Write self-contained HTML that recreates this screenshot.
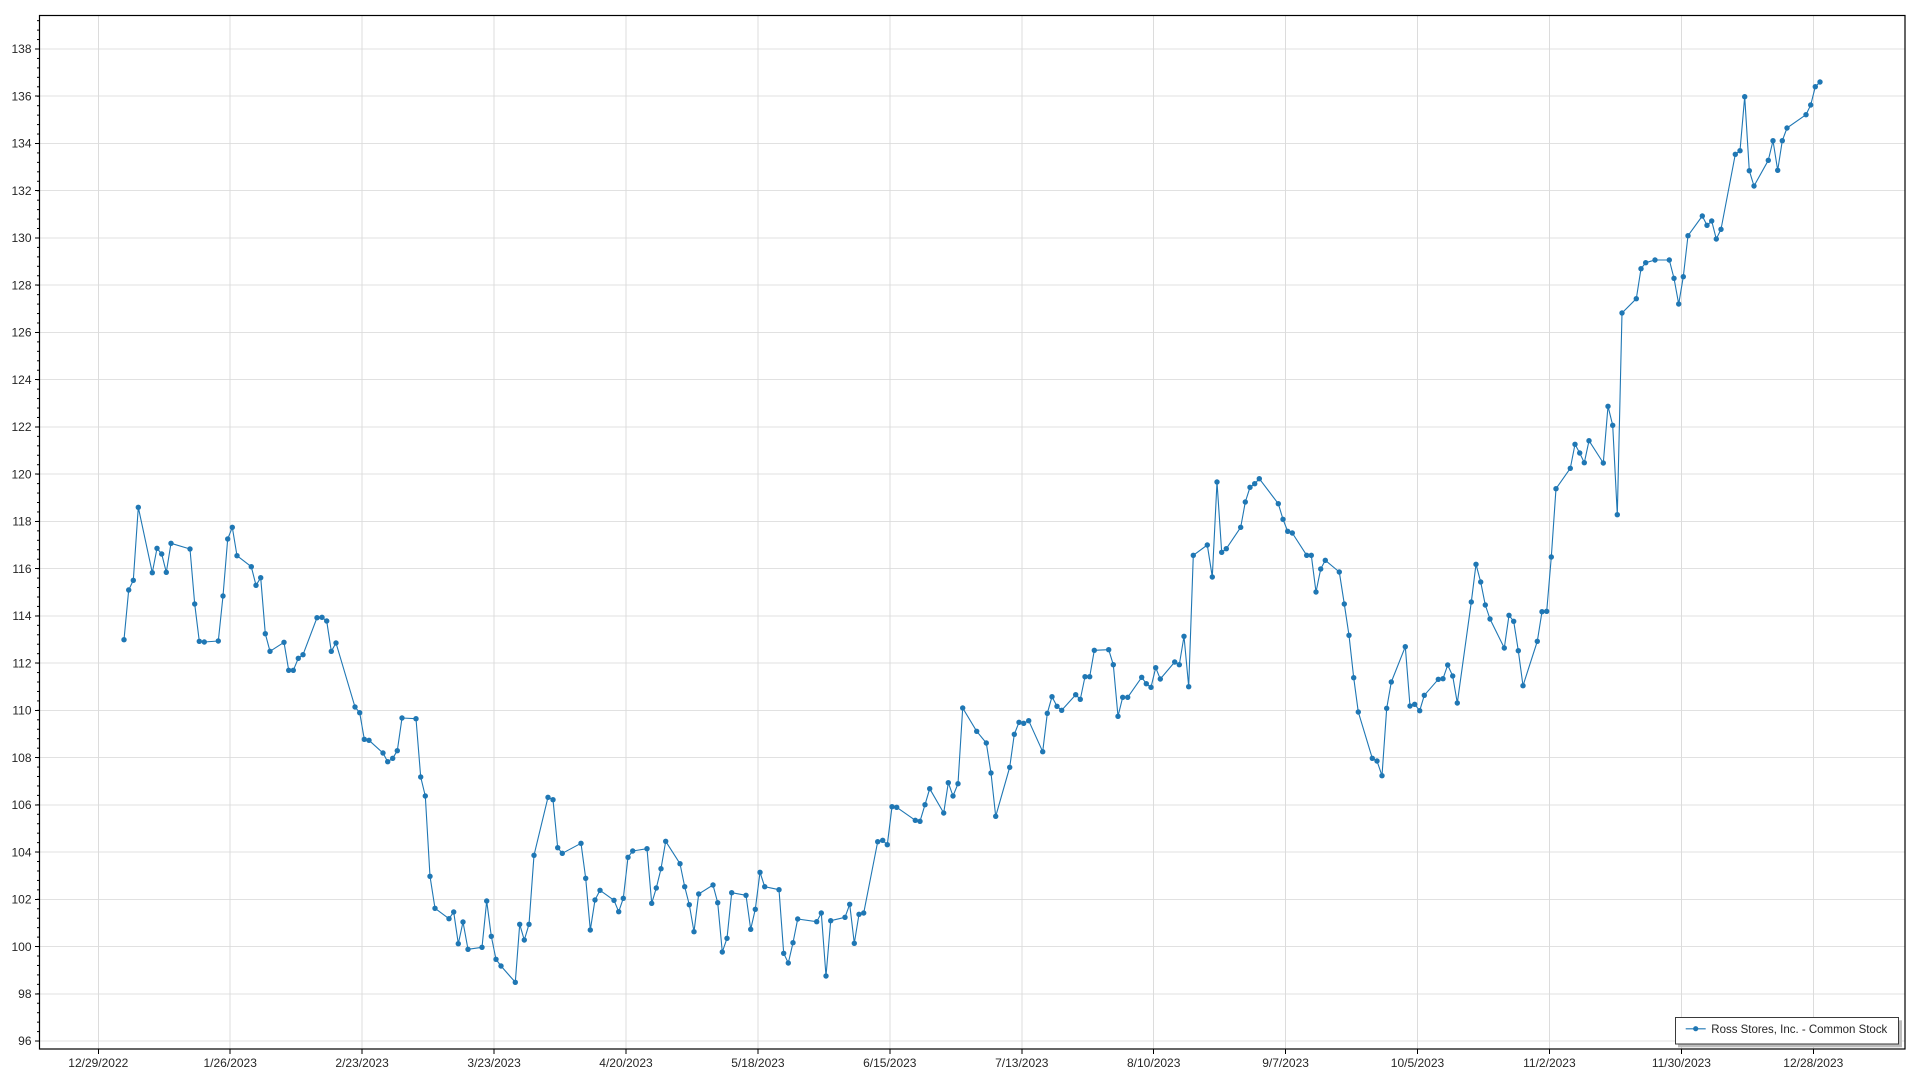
<!DOCTYPE html>
<html>
<head>
<meta charset="utf-8">
<style>
  html, body { margin: 0; padding: 0; background: #ffffff; }
  body { width: 1920px; height: 1080px; overflow: hidden; }
  svg { display: block; }
  text { font-family: "Liberation Sans", "DejaVu Sans", sans-serif; font-size: 12px; fill: #262626; }
</style>
</head>
<body>
<svg width="1920" height="1080" viewBox="0 0 1920 1080" xmlns="http://www.w3.org/2000/svg">
  <defs>
    <pattern id="minor" patternUnits="userSpaceOnUse" x="0" y="48.5" width="4" height="9.448">
      <rect x="0" y="0" width="4" height="1" fill="#000"/>
    </pattern>
    <marker id="dot" viewBox="-3 -3 6 6" markerWidth="6" markerHeight="6" refX="0" refY="0" markerUnits="userSpaceOnUse">
      <circle cx="0" cy="0" r="2.7" fill="#1f77b4"/>
    </marker>
    <clipPath id="plotclip"><rect x="40" y="15" width="1865" height="1034"/></clipPath>
  </defs>

  <rect x="0" y="0" width="1920" height="1080" fill="#ffffff"/>

  <!-- horizontal gridlines -->
  <g stroke="#e1e1e1" stroke-width="1" shape-rendering="crispEdges">
    <line x1="40" x2="1905" y1="49.0" y2="49.0"/>
    <line x1="40" x2="1905" y1="96.2" y2="96.2"/>
    <line x1="40" x2="1905" y1="143.5" y2="143.5"/>
    <line x1="40" x2="1905" y1="190.7" y2="190.7"/>
    <line x1="40" x2="1905" y1="238.0" y2="238.0"/>
    <line x1="40" x2="1905" y1="285.2" y2="285.2"/>
    <line x1="40" x2="1905" y1="332.4" y2="332.4"/>
    <line x1="40" x2="1905" y1="379.7" y2="379.7"/>
    <line x1="40" x2="1905" y1="426.9" y2="426.9"/>
    <line x1="40" x2="1905" y1="474.2" y2="474.2"/>
    <line x1="40" x2="1905" y1="521.4" y2="521.4"/>
    <line x1="40" x2="1905" y1="568.6" y2="568.6"/>
    <line x1="40" x2="1905" y1="615.9" y2="615.9"/>
    <line x1="40" x2="1905" y1="663.1" y2="663.1"/>
    <line x1="40" x2="1905" y1="710.4" y2="710.4"/>
    <line x1="40" x2="1905" y1="757.6" y2="757.6"/>
    <line x1="40" x2="1905" y1="804.8" y2="804.8"/>
    <line x1="40" x2="1905" y1="852.1" y2="852.1"/>
    <line x1="40" x2="1905" y1="899.3" y2="899.3"/>
    <line x1="40" x2="1905" y1="946.6" y2="946.6"/>
    <line x1="40" x2="1905" y1="993.8" y2="993.8"/>
    <line x1="40" x2="1905" y1="1041.0" y2="1041.0"/>
  </g>

  <!-- vertical gridlines -->
  <g stroke="#dcdcdc" stroke-width="1" shape-rendering="crispEdges">
    <line y1="15" y2="1049" x1="98.3" x2="98.3"/>
    <line y1="15" y2="1049" x1="230.2" x2="230.2"/>
    <line y1="15" y2="1049" x1="362.1" x2="362.1"/>
    <line y1="15" y2="1049" x1="494.1" x2="494.1"/>
    <line y1="15" y2="1049" x1="626.0" x2="626.0"/>
    <line y1="15" y2="1049" x1="757.9" x2="757.9"/>
    <line y1="15" y2="1049" x1="889.8" x2="889.8"/>
    <line y1="15" y2="1049" x1="1021.8" x2="1021.8"/>
    <line y1="15" y2="1049" x1="1153.7" x2="1153.7"/>
    <line y1="15" y2="1049" x1="1285.6" x2="1285.6"/>
    <line y1="15" y2="1049" x1="1417.5" x2="1417.5"/>
    <line y1="15" y2="1049" x1="1549.4" x2="1549.4"/>
    <line y1="15" y2="1049" x1="1681.4" x2="1681.4"/>
    <line y1="15" y2="1049" x1="1813.3" x2="1813.3"/>
  </g>

  <!-- series -->
  <g clip-path="url(#plotclip)">
  <polyline fill="none" stroke="#1f77b4" stroke-width="1.1" stroke-linejoin="round"
    marker-start="url(#dot)" marker-mid="url(#dot)" marker-end="url(#dot)"
    points="124.0,639.7 128.7,590.0 133.3,580.3 138.3,507.3 152.3,572.7 157.0,548.3 161.7,554.0 166.3,572.3 171.0,543.3 190.0,549.0
194.7,604.0 199.3,641.3 204.3,642.0 218.3,641.0 223.0,596.0 227.7,539.0 232.3,527.3 237.0,555.7 251.3,566.7 256.0,585.3
260.7,577.7 265.3,633.7 270.0,651.3 284.0,642.3 288.7,670.3 293.3,670.3 298.3,658.3 303.0,654.7 317.0,617.7 322.0,617.3
326.7,621.0 331.3,651.3 336.0,643.0 355.0,707.0 359.7,712.7 364.3,739.3 369.0,740.3 383.0,753.0 387.7,761.7 392.7,758.3
397.3,750.7 402.0,718.0 416.0,718.7 420.7,777.0 425.3,796.0 430.0,876.3 435.0,908.3 449.0,918.7 453.7,912.0 458.3,943.7
463.0,922.0 468.0,949.3 482.0,947.3 486.7,901.0 491.3,936.3 496.0,959.3 501.0,966.0 515.3,982.3 519.7,924.3 524.3,940.0
529.0,924.3 534.0,855.3 548.0,797.3 553.0,799.7 557.7,847.7 562.3,853.3 581.0,843.3 585.7,878.3 590.3,930.0 595.0,900.0
600.0,890.3 614.0,900.3 618.7,911.7 623.3,898.3 628.0,857.3 632.7,851.0 647.0,848.7 651.7,903.3 656.3,888.0 661.0,868.7
665.7,841.3 680.0,863.7 684.7,886.7 689.3,904.7 694.0,931.7 698.7,894.0 713.0,885.0 717.7,902.7 722.3,952.0 727.0,938.3
731.7,892.7 746.0,895.3 750.7,929.3 755.3,909.3 760.0,872.3 764.7,886.7 779.0,889.7 783.7,953.3 788.3,963.0 793.0,942.7
797.7,919.0 816.7,921.7 821.3,913.0 826.0,976.0 830.7,920.7 845.0,917.3 849.7,904.3 854.3,943.3 859.0,914.3 863.7,913.0
877.7,841.7 882.7,840.3 887.3,844.7 892.0,806.7 896.7,807.3 915.3,820.3 920.0,821.3 925.0,804.7 929.7,788.7 943.7,813.0
948.3,782.7 953.0,796.0 958.0,783.7 962.7,708.0 976.7,731.3 986.3,743.0 991.0,773.0 995.7,816.3 1009.7,767.3 1014.3,734.3
1019.0,722.3 1023.7,723.3 1028.7,720.7 1042.7,751.7 1047.3,713.3 1052.0,696.7 1057.0,706.3 1061.7,710.3 1075.7,694.7 1080.3,699.3
1085.0,676.7 1089.7,676.7 1094.3,650.3 1108.7,649.7 1113.3,664.7 1118.0,716.3 1122.7,697.3 1127.7,697.3 1141.7,677.3 1146.3,683.7
1151.0,687.3 1155.7,667.7 1160.3,679.0 1174.7,662.0 1179.3,664.7 1184.0,636.3 1188.7,686.7 1193.3,555.3 1207.3,545.0 1212.3,577.0
1217.0,482.0 1221.7,552.3 1226.3,548.7 1240.7,527.3 1245.3,502.0 1250.0,487.3 1254.7,483.7 1259.3,478.7 1278.3,503.7 1283.0,519.3
1287.7,531.3 1292.3,533.0 1306.7,555.3 1311.3,555.3 1316.0,592.0 1320.7,569.0 1325.3,560.3 1339.3,572.0 1344.3,604.0 1349.0,635.3
1353.7,677.7 1358.3,712.0 1372.3,758.3 1377.0,761.0 1382.0,775.7 1386.7,708.3 1391.3,682.0 1405.3,646.7 1410.0,706.0 1414.7,704.3
1419.7,710.7 1424.3,695.3 1438.3,679.3 1443.0,678.7 1447.7,665.0 1452.7,676.0 1457.3,703.0 1471.3,602.0 1476.0,564.3 1480.7,582.0
1485.3,605.0 1490.0,619.0 1504.3,648.0 1509.0,615.3 1513.7,621.3 1518.3,650.7 1523.0,685.7 1537.3,641.3 1542.0,611.7 1546.7,611.3
1551.3,557.0 1556.0,488.7 1570.3,468.3 1575.0,444.3 1579.7,453.0 1584.3,462.7 1589.0,440.7 1603.3,463.0 1608.0,406.3 1612.7,425.3
1617.3,514.7 1622.0,313.0 1636.3,298.7 1641.0,268.7 1645.7,262.7 1655.0,260.0 1669.3,260.0 1674.0,278.3 1678.7,304.0 1683.3,276.7
1688.0,235.7 1702.3,216.0 1707.0,225.3 1711.7,221.0 1716.3,239.0 1721.0,229.3 1735.3,154.3 1740.0,150.7 1744.7,96.7 1749.3,170.7
1754.0,186.0 1768.3,160.3 1773.0,140.7 1777.7,170.3 1782.3,140.7 1787.0,128.0 1806.0,114.7 1810.7,105.0 1815.3,86.7 1820.0,82.0"/>
  </g>

  <!-- minor y ticks -->
  <rect x="37" y="15" width="2.5" height="1034" fill="url(#minor)"/>

  <!-- major y ticks -->
  <g stroke="#000" stroke-width="1" shape-rendering="crispEdges">
    <line x1="35" x2="40" y1="49.0" y2="49.0"/>
    <line x1="35" x2="40" y1="96.2" y2="96.2"/>
    <line x1="35" x2="40" y1="143.5" y2="143.5"/>
    <line x1="35" x2="40" y1="190.7" y2="190.7"/>
    <line x1="35" x2="40" y1="238.0" y2="238.0"/>
    <line x1="35" x2="40" y1="285.2" y2="285.2"/>
    <line x1="35" x2="40" y1="332.4" y2="332.4"/>
    <line x1="35" x2="40" y1="379.7" y2="379.7"/>
    <line x1="35" x2="40" y1="426.9" y2="426.9"/>
    <line x1="35" x2="40" y1="474.2" y2="474.2"/>
    <line x1="35" x2="40" y1="521.4" y2="521.4"/>
    <line x1="35" x2="40" y1="568.6" y2="568.6"/>
    <line x1="35" x2="40" y1="615.9" y2="615.9"/>
    <line x1="35" x2="40" y1="663.1" y2="663.1"/>
    <line x1="35" x2="40" y1="710.4" y2="710.4"/>
    <line x1="35" x2="40" y1="757.6" y2="757.6"/>
    <line x1="35" x2="40" y1="804.8" y2="804.8"/>
    <line x1="35" x2="40" y1="852.1" y2="852.1"/>
    <line x1="35" x2="40" y1="899.3" y2="899.3"/>
    <line x1="35" x2="40" y1="946.6" y2="946.6"/>
    <line x1="35" x2="40" y1="993.8" y2="993.8"/>
    <line x1="35" x2="40" y1="1041.0" y2="1041.0"/>
  </g>

  <!-- x ticks -->
  <g stroke="#000" stroke-width="1" shape-rendering="crispEdges">
    <line y1="1049" y2="1054" x1="98.3" x2="98.3"/>
    <line y1="1049" y2="1054" x1="230.2" x2="230.2"/>
    <line y1="1049" y2="1054" x1="362.1" x2="362.1"/>
    <line y1="1049" y2="1054" x1="494.1" x2="494.1"/>
    <line y1="1049" y2="1054" x1="626.0" x2="626.0"/>
    <line y1="1049" y2="1054" x1="757.9" x2="757.9"/>
    <line y1="1049" y2="1054" x1="889.8" x2="889.8"/>
    <line y1="1049" y2="1054" x1="1021.8" x2="1021.8"/>
    <line y1="1049" y2="1054" x1="1153.7" x2="1153.7"/>
    <line y1="1049" y2="1054" x1="1285.6" x2="1285.6"/>
    <line y1="1049" y2="1054" x1="1417.5" x2="1417.5"/>
    <line y1="1049" y2="1054" x1="1549.4" x2="1549.4"/>
    <line y1="1049" y2="1054" x1="1681.4" x2="1681.4"/>
    <line y1="1049" y2="1054" x1="1813.3" x2="1813.3"/>
  </g>

  <!-- plot frame -->
  <rect x="39.5" y="15.5" width="1865.5" height="1033.5" fill="none" stroke="#000" stroke-width="1.2"/>

  <!-- y labels -->
  <g text-anchor="end">
    <text x="31.5" y="53.2">138</text>
    <text x="31.5" y="100.4">136</text>
    <text x="31.5" y="147.7">134</text>
    <text x="31.5" y="194.9">132</text>
    <text x="31.5" y="242.2">130</text>
    <text x="31.5" y="289.4">128</text>
    <text x="31.5" y="336.6">126</text>
    <text x="31.5" y="383.9">124</text>
    <text x="31.5" y="431.1">122</text>
    <text x="31.5" y="478.4">120</text>
    <text x="31.5" y="525.6">118</text>
    <text x="31.5" y="572.8">116</text>
    <text x="31.5" y="620.1">114</text>
    <text x="31.5" y="667.3">112</text>
    <text x="31.5" y="714.6">110</text>
    <text x="31.5" y="761.8">108</text>
    <text x="31.5" y="809.0">106</text>
    <text x="31.5" y="856.3">104</text>
    <text x="31.5" y="903.5">102</text>
    <text x="31.5" y="950.8">100</text>
    <text x="31.5" y="998.0">98</text>
    <text x="31.5" y="1045.2">96</text>
  </g>

  <!-- x labels -->
  <g text-anchor="middle">
    <text x="98.3" y="1067">12/29/2022</text>
    <text x="230.2" y="1067">1/26/2023</text>
    <text x="362.1" y="1067">2/23/2023</text>
    <text x="494.1" y="1067">3/23/2023</text>
    <text x="626.0" y="1067">4/20/2023</text>
    <text x="757.9" y="1067">5/18/2023</text>
    <text x="889.8" y="1067">6/15/2023</text>
    <text x="1021.8" y="1067">7/13/2023</text>
    <text x="1153.7" y="1067">8/10/2023</text>
    <text x="1285.6" y="1067">9/7/2023</text>
    <text x="1417.5" y="1067">10/5/2023</text>
    <text x="1549.4" y="1067">11/2/2023</text>
    <text x="1681.4" y="1067">11/30/2023</text>
    <text x="1813.3" y="1067">12/28/2023</text>
  </g>

  <!-- legend -->
  <rect x="1678" y="1020.3" width="224" height="27" fill="#bdbdbd"/>
  <rect x="1675.5" y="1017.5" width="223" height="26.5" fill="#ffffff" stroke="#3a3a3a" stroke-width="1"/>
  <line x1="1685.7" x2="1705.7" y1="1028.7" y2="1028.7" stroke="#1f77b4" stroke-opacity="0.75" stroke-width="1.5"/>
  <circle cx="1695.7" cy="1028.7" r="2.6" fill="#1f77b4"/>
  <text x="1711.3" y="1033" textLength="176" lengthAdjust="spacingAndGlyphs">Ross Stores, Inc. - Common Stock</text>
</svg>
</body>
</html>
